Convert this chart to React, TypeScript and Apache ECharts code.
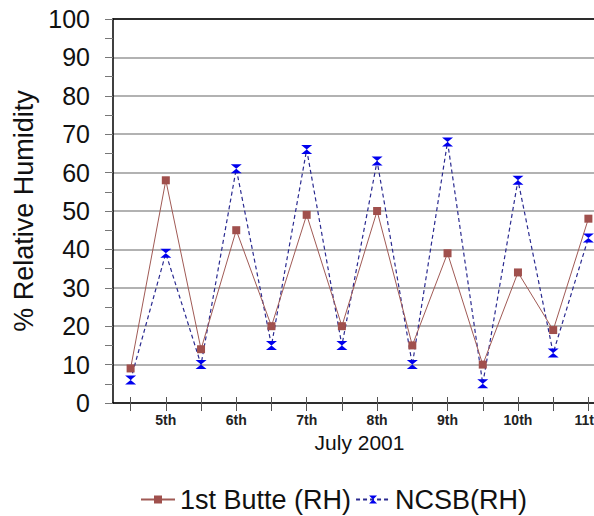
import React, { useEffect, useRef } from "react";
import * as echarts from "echarts";

const categories = ["", "5th", "", "6th", "", "7th", "", "8th", "", "9th", "", "10th", "", "11th"];
const butteRH = [9, 58, 14, 45, 20, 49, 20, 50, 15, 39, 10, 34, 19, 48];
const ncsbRH = [6, 39, 10, 61, 15, 66, 15, 63, 10, 68, 5, 58, 13, 43];
const yTicks = { min: 0, max: 100, interval: 10 };

const hourglass = "path://M0,0L10,0L5,5L10,10L0,10L5,5Z";

export default function App() {
  const ref = useRef<HTMLDivElement>(null);
  useEffect(() => {
    if (!ref.current) return;
    const chart = echarts.init(ref.current, null, { renderer: "svg" });
    const font = "'Liberation Sans', Arial, sans-serif";
    chart.setOption({
      animation: false,
      backgroundColor: "#ffffff",
      grid: { left: 113, top: 19, bottom: 113, right: 14, containLabel: false },
      legend: {
        left: 135,
        top: 481,
        itemWidth: 34,
        itemHeight: 10,
        itemGap: 4,
        textStyle: { fontFamily: font, fontSize: 27, color: "#111" },
        data: ["1st Butte (RH)", "NCSB(RH)"],
      },
      xAxis: [
        {
          type: "category",
          data: categories,
          boundaryGap: true,
          name: "July 2001",
          nameLocation: "middle",
          nameGap: 28,
          nameTextStyle: { fontFamily: font, fontSize: 21, color: "#111" },
          axisLine: { show: true, lineStyle: { color: "#000", width: 1.5 } },
          axisTick: { show: true, alignWithLabel: true, interval: 0, length: 8, lineStyle: { color: "#555" } },
          axisLabel: {
            interval: 0,
            margin: 10,
            fontFamily: font,
            fontSize: 14,
            fontWeight: "bold",
            color: "#222",
          },
          splitLine: { show: false },
        },
        {
          type: "category",
          data: categories,
          position: "top",
          boundaryGap: true,
          axisLine: { show: true, lineStyle: { color: "#000", width: 1.5 } },
          axisTick: { show: false },
          axisLabel: { show: false },
        },
        {
          type: "category",
          data: categories,
          position: "bottom",
          boundaryGap: true,
          axisLine: { show: false },
          axisTick: { show: true, inside: true, alignWithLabel: true, interval: 0, length: 6, lineStyle: { color: "#555" } },
          axisLabel: { show: false },
        },
      ],
      yAxis: {
        type: "value",
        min: yTicks.min,
        max: yTicks.max,
        interval: yTicks.interval,
        name: "% Relative Humidity",
        nameLocation: "middle",
        nameGap: 70,
        nameTextStyle: { fontFamily: font, fontSize: 27, color: "#111" },
        axisLine: { show: true, lineStyle: { color: "#000", width: 1.5 } },
        axisTick: { show: true, length: 8, lineStyle: { color: "#777" } },
        minorTick: { show: true, splitNumber: 2, length: 8, lineStyle: { color: "#777" } },
        axisLabel: { margin: 23, fontFamily: font, fontSize: 25, color: "#111" },
        splitLine: { show: true, lineStyle: { color: "#999", width: 1.5 } },
      },
      series: [
        {
          name: "1st Butte (RH)",
          type: "line",
          data: butteRH,
          symbol: "rect",
          symbolSize: 8,
          lineStyle: { color: "#A05A55", width: 1 },
          itemStyle: { color: "#A0504D" },
          z: 3,
        },
        {
          name: "NCSB(RH)",
          type: "line",
          data: ncsbRH,
          symbol: hourglass,
          symbolSize: [11, 9],
          lineStyle: { color: "#2A2A90", width: 1.2, type: [4, 3] },
          itemStyle: { color: "#0000EE" },
          z: 2,
        },
      ],
    });
    return () => chart.dispose();
  }, []);
  return (
    <div
      style={{ position: "absolute", left: 0, top: 0, width: 594, height: 516, overflow: "hidden", background: "#fff" }}
    >
      <div ref={ref} style={{ width: 620, height: 516 }} />
    </div>
  );
}
